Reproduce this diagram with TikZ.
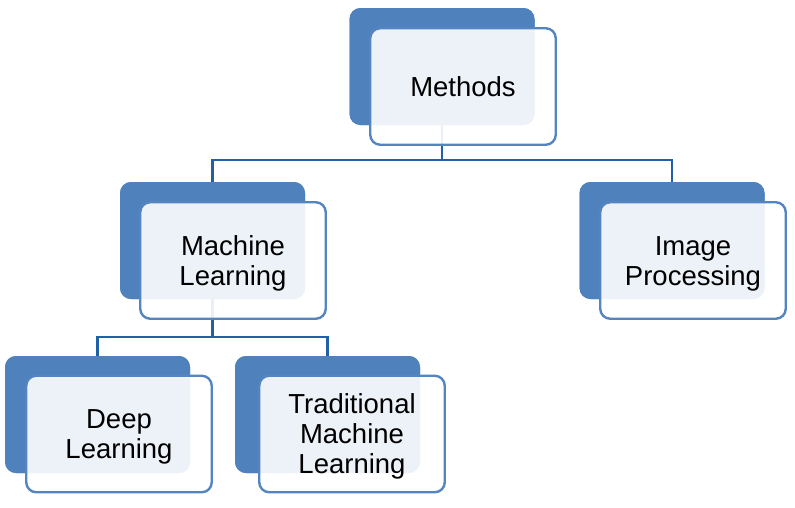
\documentclass[tikz,border=0pt]{standalone}
\usepackage{fontspec}
\setmainfont{Liberation Sans}
\definecolor{dblue}{HTML}{4F81BD}
\definecolor{bord}{HTML}{5585C0}
\definecolor{conn}{HTML}{2260A6}
\newcommand{\lbltext}[1]{\raisebox{0pt}[\dimexpr\height+7pt\relax]{\begin{tabular}{@{}c@{}}#1\end{tabular}}}
\tikzset{
  backbox/.style={fill=dblue, rounded corners=11pt, minimum width=185pt, minimum height=117pt, inner sep=0pt},
  frontbox/.style={draw=bord, line width=2.4pt, fill=white, fill opacity=0.9, text opacity=1,
    rounded corners=10pt, minimum width=185.5pt, minimum height=116.5pt, inner sep=0pt,
    align=center, font=\fontsize{27.5}{30}\selectfont},
  connector/.style={draw=conn, line width=2.6pt}
}
\begin{document}
\begin{tikzpicture}[x=1pt,y=-1pt]
\useasboundingbox (0,0) rectangle (795,507);
% back boxes (centres)
\node[backbox] (mb) at (442,66.5) {};
\node[backbox] (mlb) at (212.5,240.5) {};
\node[backbox] (ipb) at (672,240.5) {};
\node[backbox] (dlb) at (97.5,414.5) {};
\node[backbox] (tmlb) at (327.5,414.5) {};
% connectors
\draw[connector] (mb.south) -- (mb.south |- 0,160) -| (mlb.north);
\draw[connector] (mb.south |- 0,160) -| (ipb.north);
\draw[connector] (mlb.south) -- (mlb.south |- 0,337) -| (dlb.north);
\draw[connector] (mlb.south |- 0,337) -| (tmlb.north);
% redraw back boxes over connectors
\node[backbox] at (mb) {};
\node[backbox] at (mlb) {};
\node[backbox] at (ipb) {};
\node[backbox] at (dlb) {};
\node[backbox] at (tmlb) {};
% front boxes
\node[frontbox] (m) at (463,86.5) {Methods};
\node[frontbox] (ml) at (233,260.5) {\lbltext{Machine\\Learning}};
\node[frontbox] (ip) at (693,260.5) {\lbltext{Image\\Processing}};
\node[frontbox] (dl) at (119,434) {\lbltext{Deep\\Learning}};
\node[frontbox] (tml) at (352,434) {\lbltext{Traditional\\Machine\\Learning}};
\end{tikzpicture}
\end{document}
